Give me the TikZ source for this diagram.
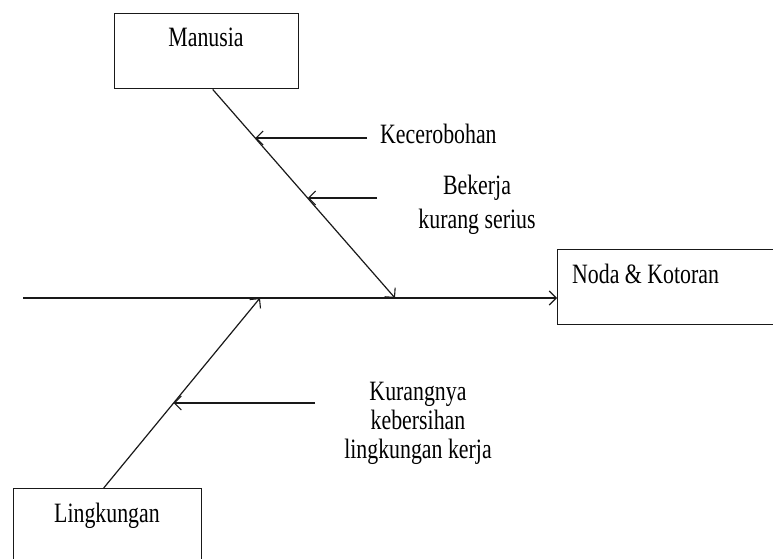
\documentclass[tikz,border=0pt]{standalone}
\usepackage{fontspec}
\newfontfamily\tnr[FakeStretch=0.78]{Liberation Serif}
\usetikzlibrary{arrows.meta,calc}
\begin{document}
\begin{tikzpicture}[x=1pt,y=-1pt,
  box/.style={draw=black!90, line width=1.4pt, rectangle, inner sep=0pt, anchor=north west},
  lbl/.style={font=\tnr\fontsize{28}{34}\selectfont, inner sep=0pt, anchor=base},
  bone/.style={draw=black!90, line width=1.2pt},
  tip/.style={-{Straight Barb[length=7pt,width=14pt,line width=1.1pt]}}]
\useasboundingbox (0,0) rectangle (773,559);
\clip (0,0) rectangle (773,559);

% category and effect boxes
\node[box, minimum width=184pt, minimum height=75pt] (manusia) at (114,13) {};
\node[box, minimum width=188pt, minimum height=90pt] (ling) at (13,488) {};
\node[box, minimum width=230pt, minimum height=75pt] (noda) at (557,249) {};

\node[lbl] (tman) at (206,47) {Manusia};
\node[lbl] (tling) at (107,522) {Lingkungan};
\node[lbl, anchor=base west] (tnoda) at (572,283) {Noda \& Kotoran};

% spine
\coordinate (spineL) at (23,298);
\draw[bone,tip] (spineL) -- (spineL -| noda.west);

% main bones
\coordinate (mtop) at ([xshift=6pt]manusia.south);
\coordinate (mj) at (395,298);
\draw[bone,tip] (mtop) -- (mj);
\coordinate (ltop) at ([xshift=-4pt]ling.north);
\coordinate (lj) at (260,298);
\draw[bone,tip] (ltop) -- (lj);

% causes (multi-line labels are placed by the baseline of their last line)
\coordinate (kA) at (367,138);
\coordinate (kB) at ($(mtop)!0.2344!(mj)$);
\draw[bone,tip] (kA) -- (kA -| kB);
\node[lbl, anchor=base west] (tkec) at (380,143) {Kecerobohan};

\coordinate (bA) at (377,198);
\coordinate (bB) at ($(mtop)!0.5215!(mj)$);
\draw[bone,tip] (bA) -- (bA -| bB);
\node[lbl, align=center] (tbek) at (477,228) {Bekerja\\kurang serius};

\coordinate (uA) at (315,403);
\coordinate (uB) at ($(ltop)!0.447!(lj)$);
\draw[bone,tip] (uA) -- (uA -| uB);
\node[lbl, align=center, font=\tnr\fontsize{28}{29}\selectfont] (tkur) at (418,458) {Kurangnya\\kebersihan\\lingkungan kerja};
\end{tikzpicture}
\end{document}
